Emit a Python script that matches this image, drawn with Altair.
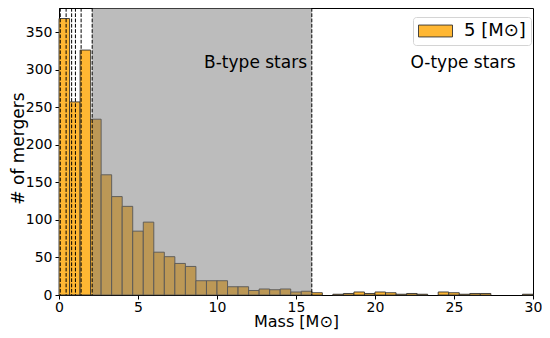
import altair as alt
import pandas as pd

# Histogram counts, 45 bins of width 2/3 over 0..30 Msun
counts = [368, 257, 326, 234, 160, 131, 118, 85, 97, 57,
          51, 42, 38, 19, 19, 19, 11, 11, 6, 8,
          7, 8, 4, 5, 3, 0, 1, 2, 4, 2,
          4, 3, 1, 2, 1, 0, 4, 3, 1, 2,
          2, 0, 0, 0, 1]
n_bins = 45
mass_range = [0, 30]
series_name = "5 [M⊙]"

# spectral type boundaries (Msun)
boundaries = [0.08, 0.45, 0.8, 1.04, 1.4, 2.1, 16]
b_region = [2.1, 16]

labels = ["B-type stars", "O-type stars"]
label_x = [12.44, 25.57]
label_y = [302, 302]

x_ticks = [0, 5, 10, 15, 20, 25, 30]
y_ticks = [0, 50, 100, 150, 200, 250, 300, 350]
y_max = 382

bw = (mass_range[1] - mass_range[0]) / n_bins
df = pd.DataFrame({
    "lo": [mass_range[0] + i * bw for i in range(n_bins)],
    "hi": [mass_range[0] + (i + 1) * bw for i in range(n_bins)],
    "count": counts,
})
df = df[df["count"] > 0]
df["series"] = series_name

W, H = 474, 287
FONT = "DejaVu Sans"

xscale = alt.Scale(domain=mass_range, nice=False, zero=False)
yscale = alt.Scale(domain=[0, y_max], nice=False)

x_axis = alt.Axis(values=x_ticks, title="Mass [M⊙]", grid=False,
                  format="d", labelFontSize=14, tickSize=4,
                  labelPadding=1, titleFontSize=16, titleY=31,
                  titleBaseline="alphabetic", labelFlush=False)
y_axis = alt.Axis(values=y_ticks, title="# of mergers", grid=False,
                  labelFontSize=14, tickSize=4, labelPadding=3,
                  titleFontSize=17, titleX=-41, titleY=140,
                  titleBaseline="middle", titleAngle=-90)

bars = alt.Chart(df).mark_rect(stroke="#333333", strokeWidth=0.9).encode(
    x=alt.X("lo:Q", scale=xscale, axis=x_axis),
    x2="hi:Q",
    y=alt.Y("count:Q", scale=yscale, axis=y_axis),
    y2=alt.datum(0),
    color=alt.Color("series:N", scale=alt.Scale(range=["#FFB733"]),
                    legend=alt.Legend(title=None, orient="none",
                                      legendX=354, legendY=9, padding=5,
                                      labelFontSize=18, labelFont=FONT,
                                      labelColor="black",
                                      labelExpr="datum.label + '\u2002'",
                                      symbolType="M-1,-0.35H1V0.35H-1Z",
                                      symbolSize=1156,
                                      clipHeight=18,
                                      symbolStrokeColor="#333333",
                                      symbolStrokeWidth=0.9,
                                      symbolOpacity=1,
                                      labelOffset=11,
                                      strokeColor="#d4d4d4",
                                      cornerRadius=3, fillColor="white")),
)

region_df = pd.DataFrame({"a": [b_region[0]], "b": [b_region[1]]})
region = alt.Chart(region_df).mark_rect(color="#7a7a7a", opacity=0.5).encode(
    x=alt.X("a:Q", scale=xscale, axis=x_axis),
    x2="b:Q",
    y=alt.value(0),
    y2=alt.value(H),
)

rules = alt.Chart(pd.DataFrame({"m": boundaries})).mark_rule(
    color="black", strokeDash=[3.7, 1.6], strokeWidth=1
).encode(x=alt.X("m:Q", scale=xscale, axis=x_axis))

texts = alt.Chart(pd.DataFrame({"t": labels, "x": label_x, "y": label_y})).mark_text(
    font=FONT, fontSize=17, align="center", baseline="alphabetic", color="black"
).encode(
    x=alt.X("x:Q", scale=xscale, axis=x_axis),
    y=alt.Y("y:Q", scale=yscale, axis=y_axis),
    text="t:N",
)

chart = alt.layer(bars, region, rules, texts).properties(
    width=W, height=H,
    background="white",
    autosize=alt.AutoSizeParams(type="none"),
    padding={"left": 51, "top": 0, "right": 9, "bottom": 35},
).configure_view(stroke="black", strokeWidth=1).configure_axis(
    domainColor="black", tickColor="black", labelColor="black",
    titleColor="black", labelFont=FONT, titleFont=FONT,
    titleFontWeight="normal", domainWidth=1, tickWidth=1,
)

chart.save("out.html", embed_options={"renderer": "svg", "actions": False})
